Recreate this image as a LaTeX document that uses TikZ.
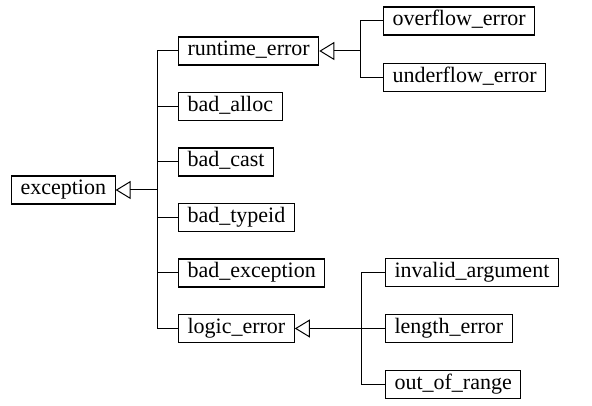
\documentclass[tikz,border=0pt]{standalone}
\usepackage{fontspec}
\setmainfont{Liberation Serif}
\usetikzlibrary{
  arrows.meta,
  positioning
}

\begin{document}
\begin{tikzpicture}[x=1pt, y=1pt,
    cls/.style = {draw, line width=1.1pt, inner xsep=9pt, inner ysep=4pt,
      text height=15pt, text depth=5pt, font=\fontsize{22}{26}\selectfont},
    link/.style = {line width=1pt},
    inherit/.style = {link, -{Triangle[open, length=15pt, width=18pt, line width=1pt]}}]
    \useasboundingbox (0,0) rectangle (592,406);

    \node[cls, anchor=west] (exc) at (11,216) {exception};
    \node[cls, right = 167pt of exc.west, yshift=139pt] (rt) {runtime\_error};
    \node[cls, below = 26.4pt of rt.south west, anchor=north west] (ba) {bad\_alloc};
    \node[cls, below = 26.4pt of ba.south west, anchor=north west] (bc) {bad\_cast};
    \node[cls, below = 26.4pt of bc.south west, anchor=north west] (bt) {bad\_typeid};
    \node[cls, below = 26.4pt of bt.south west, anchor=north west] (be) {bad\_exception};
    \node[cls, below = 26.4pt of be.south west, anchor=north west] (le) {logic\_error};

    \node[cls, right = 205pt of rt.west, yshift=30pt] (ov) {overflow\_error};
    \node[cls, below = 27pt of ov.south west, anchor=north west] (un) {underflow\_error};

    \node[cls, right = 207pt of le.west] (len) {length\_error};
    \node[cls, above = 26.5pt of len.north west, anchor=south west] (ia) {invalid\_argument};
    \node[cls, below = 27pt of len.south west, anchor=north west] (oor) {out\_of\_range};

    % buses
    \coordinate[left = 21pt of rt.west] (bus1);
    \coordinate[left = 23pt of ov.west] (bus2);
    \coordinate[left = 24pt of ia.west] (bus3);

    \draw[link] (bus1) -- (le.west -| bus1);
    \foreach \n in {rt,ba,bc,bt,be,le}
      \draw[link] (\n.west) -- (\n.west -| bus1);
    \draw[inherit] (exc.east -| bus1) -- (exc.east);

    \draw[link] (bus2) -- (un.west -| bus2);
    \foreach \n in {ov,un}
      \draw[link] (\n.west) -- (\n.west -| bus2);
    \draw[inherit] (rt.east -| bus2) -- (rt.east);

    \draw[link] (bus3) -- (oor.west -| bus3);
    \foreach \n in {ia,oor}
      \draw[link] (\n.west) -- (\n.west -| bus3);
    \draw[inherit] (len.west) -- (le.east);
  \end{tikzpicture}
\end{document}
